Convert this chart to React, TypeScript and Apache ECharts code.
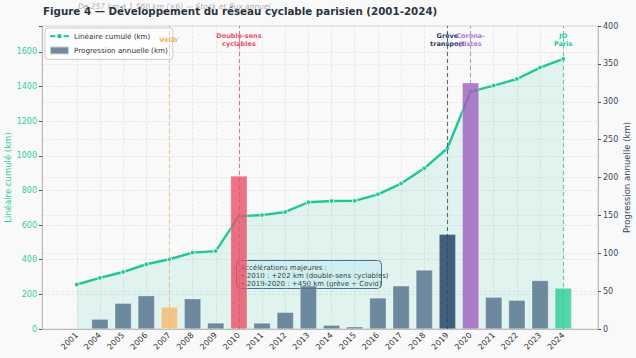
import React, { useEffect, useRef } from "react";
import * as echarts from "echarts";

const years = ["2001","2004","2005","2006","2007","2008","2009","2010","2011","2012","2013","2014","2015","2016","2017","2018","2019","2020","2021","2022","2023","2024"];
const cumulative = [257, 295, 329, 374, 403, 441, 450, 652, 658, 676, 732, 739, 740, 778, 840, 928, 1044, 1371, 1406, 1444, 1510, 1560];
const annual = [null, 13, 34, 44, 29, 40, 8, 202, 8, 22, 57, 5, 3, 41, 57, 78, 125, 325, 42, 38, 64, 54];
const events = [
  { year: "2007", label: "Vélib'" },
  { year: "2010", label: "Double-sens\ncyclables" },
  { year: "2019", label: "Grève\ntransport" },
  { year: "2020", label: "Corona-\npistes" },
  { year: "2024", label: "JO\nParis" },
];
const leftTicks = [0, 200, 400, 600, 800, 1000, 1200, 1400, 1600];
const rightTicks = [0, 50, 100, 150, 200, 250, 300, 350, 400];

const FONT = "DejaVu Sans";
const barColor = "rgba(88,118,142,0.85)";
const highlight: Record<string, { bar: string; line: string; text: string }> = {
  "2007": { bar: "rgba(243,183,100,0.75)", line: "#f0b67f", text: "#f0b060" },
  "2010": { bar: "rgba(232,80,102,0.8)", line: "#e8506a", text: "#e8506a" },
  "2019": { bar: "rgba(38,68,102,0.85)", line: "#2c4a6b", text: "#2c3e60" },
  "2020": { bar: "rgba(155,95,190,0.8)", line: "#b07ccc", text: "#b07ccc" },
  "2024": { bar: "rgba(40,205,150,0.8)", line: "#2ecc9a", text: "#20c997" },
};

export default function App() {
  const ref = useRef<HTMLDivElement>(null);
  useEffect(() => {
    if (!ref.current) return;
    const chart = echarts.init(ref.current, null, { renderer: "svg" });
    const cats = [" ", ...years, "  "];
    const n = cats.length;
    const lineData = [null, ...cumulative, null];
    const barData = [null, ...annual.map((v, i) => {
      const h = highlight[years[i]];
      return h ? { value: v, itemStyle: { color: h.bar } } : v;
    }), null];
    const inner = (i: number) => i > 0 && i < n - 1;
    const option: any = {
      animation: false,
      backgroundColor: "#f9f9f9",
      textStyle: { fontFamily: FONT },
      title: [
        {
          text: "De 257 km à 1 560 km (×6) — Stock et flux annuel",
          left: 78, top: 2, padding: 0,
          textStyle: { fontFamily: FONT, fontSize: 7.5, fontStyle: "italic", fontWeight: "normal", color: "#b0b0b0" },
        },
        {
          text: "Figure 4 — Développement du réseau cyclable parisien (2001-2024)",
          left: 43, top: 6, padding: 0,
          textStyle: { fontFamily: FONT, fontSize: 10.3, fontWeight: "bold", color: "#2c3440" },
        },
      ],
      legend: {
        left: 45, top: 28, orient: "vertical",
        backgroundColor: "rgba(255,255,255,0.85)",
        borderColor: "#cccccc", borderWidth: 1, borderRadius: 3,
        padding: [4, 5, 4, 4], itemGap: 5, itemWidth: 19, itemHeight: 8,
        textStyle: { fontFamily: FONT, fontSize: 7.2, color: "#333" },
        data: [
          { name: "Linéaire cumulé (km)" },
          { name: "Progression annuelle (km)", icon: "rect" },
        ],
      },
      grid: {
        left: 42, right: 38, top: 26, bottom: 29, show: true,
        outerBoundsMode: "none", containLabel: false,
        borderColor: "#d6d6d6", borderWidth: 1, backgroundColor: "#f9f9f9",
      },
      xAxis: {
        type: "category", data: cats, boundaryGap: true,
        axisLine: { lineStyle: { color: "#bbbbbb" } },
        axisTick: { alignWithLabel: true, interval: (i: number) => inner(i), length: 3, lineStyle: { color: "#555" } },
        axisLabel: { rotate: 45, fontSize: 8, color: "#333", margin: 5, interval: 0, fontFamily: FONT },
        splitLine: { show: true, alignWithLabel: true, interval: (i: number) => inner(i), lineStyle: { color: "#e2e2e2", type: "dashed", width: 0.8 } },
      },
      yAxis: [
        {
          type: "value", min: 0, max: 1750, interval: 200,
          name: "Linéaire cumulé (km)", nameLocation: "middle", nameGap: 30, nameMoveOverlap: false,
          nameTextStyle: { color: "#2bcf9b", fontSize: 8.5, fontFamily: FONT },
          axisLine: { show: true, lineStyle: { color: "#bbbbbb" } },
          axisTick: { show: true, length: 3, lineStyle: { color: "#555" } },
          axisLabel: {
            fontSize: 8, color: "#2bcf9b", margin: 5, fontFamily: FONT,
            formatter: (v: number) => (leftTicks.includes(v) ? String(v) : ""),
          },
          splitLine: { show: true, lineStyle: { color: "#e2e2e2", type: "dashed", width: 0.8 } },
        },
        {
          type: "value", min: 0, max: 400, interval: 50,
          name: "Progression annuelle (km)", nameLocation: "middle", nameGap: 24, nameMoveOverlap: false,
          nameTextStyle: { color: "#34495e", fontSize: 8.5, fontFamily: FONT },
          axisLine: { show: true, lineStyle: { color: "#bbbbbb" } },
          axisTick: { show: true, length: 3, lineStyle: { color: "#555" } },
          axisLabel: {
            fontSize: 8, color: "#34495e", margin: 5, fontFamily: FONT,
            formatter: (v: number) => (rightTicks.includes(v) ? String(v) : ""),
          },
          splitLine: { show: true, lineStyle: { color: "#e6e6e6", type: "dashed", width: 0.8 } },
        },
      ],
      series: [
        {
          name: "Linéaire cumulé (km)", type: "line", yAxisIndex: 0, data: lineData,
          z: 2,
          symbol: "circle", symbolSize: 4.5,
          lineStyle: { color: "#1fc794", width: 2.4 },
          itemStyle: { color: "#1fc794", borderColor: "#ffffff", borderWidth: 0.8 },
          areaStyle: { color: "rgba(31,199,148,0.15)" },
          markPoint: {
            symbol: "circle", symbolSize: 0,
            data: events.map((e) => ({
              coord: [e.year, 1670],
              label: {
                show: true, position: "inside", formatter: e.label,
                fontSize: 6.5, fontWeight: "bold", lineHeight: 8, align: "center",
                color: highlight[e.year].text, fontFamily: FONT,
              },
            })),
          },
        },
        {
          name: "Progression annuelle (km)", type: "bar", yAxisIndex: 1, data: barData,
          z: 3, barWidth: "72%",
          itemStyle: { color: barColor, borderColor: "rgba(255,255,255,0.6)", borderWidth: 0.5 },
          markLine: {
            silent: true, symbol: ["none", "none"], label: { show: false },
            data: events.map((e) => ({
              xAxis: e.year,
              lineStyle: { color: highlight[e.year].line, type: [4, 3], width: 1.1, opacity: 0.8 },
            })),
          },
        },
      ],
      graphic: [
        {
          type: "group", left: 236, top: 260, z: 1,
          children: [
            {
              type: "rect", shape: { x: 0, y: 0, width: 145, height: 28, r: 4 },
              style: { fill: "#e6f2fb", stroke: "#4a6a90", lineWidth: 1 },
            },
            {
              type: "text", x: 4, y: 3,
              style: {
                text: "Accélérations majeures :\n• 2010 : +202 km (double-sens cyclables)\n• 2019-2020 : +450 km (grève + Covid)",
                font: `7px "${FONT}"`, fill: "#333", lineHeight: 8,
              },
            },
          ],
        },
      ],
    };
    chart.setOption(option);
    return () => chart.dispose();
  }, []);
  return <div ref={ref} style={{ width: 636, height: 358, position: "absolute", left: 0, top: 0 }} />;
}
